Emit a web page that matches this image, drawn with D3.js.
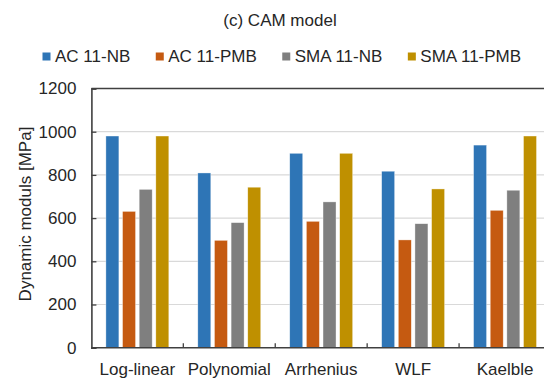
<!DOCTYPE html>
<html>
<head>
<meta charset="utf-8">
<script src="https://cdn.jsdelivr.net/npm/d3@7"></script>
<style>
  html, body { margin: 0; padding: 0; background: #fff; }
  svg { display: block; font-family: "Liberation Sans", Arial, sans-serif; }
</style>
</head>
<body>
<svg id="chart" width="544" height="381"></svg>
<script>
// Dynamic modulus predicted by each CAM shift-factor model
const models = ["Log-linear", "Polynomial", "Arrhenius", "WLF", "Kaelble"];
const mixtures = ["AC 11-NB", "AC 11-PMB", "SMA 11-NB", "SMA 11-PMB"];
const ac11NB   = [980, 809, 900, 817, 938];
const ac11PMB  = [631, 497, 585, 499, 636];
const sma11NB  = [733, 579, 675, 574, 729];
const sma11PMB = [980, 743, 900, 735, 980];
const yTicks = [0, 200, 400, 600, 800, 1000, 1200];
const colors = ["#2E75B6", "#C55A11", "#7F7F7F", "#BF9000"];

const seriesValues = [ac11NB, ac11PMB, sma11NB, sma11PMB];

const svg = d3.select("#chart");
const plotLeft = 91.4, plotRight = 551, plotTop = 88.5, plotBottom = 347.7;

const x = d3.scaleBand().domain(models).range([plotLeft, plotRight]).paddingInner(0).paddingOuter(0);
const xInner = d3.scaleBand().domain(mixtures)
  .range([14.5, x.bandwidth() - 14.5]).paddingInner(0.22).paddingOuter(0);
const y = d3.scaleLinear().domain([0, 1200]).range([plotBottom, plotTop]);

// gridlines
svg.append("g")
  .selectAll("line")
  .data(yTicks.filter(d => d > 0 && d < 1200))
  .join("line")
  .attr("x1", plotLeft).attr("x2", plotRight)
  .attr("y1", d => y(d)).attr("y2", d => y(d))
  .attr("stroke", "#d9d9d9").attr("stroke-width", 1.2);

// bars
const groups = svg.append("g")
  .selectAll("g")
  .data(models)
  .join("g")
  .attr("transform", d => `translate(${x(d)},0)`);

groups.selectAll("rect")
  .data((m, i) => mixtures.map((s, j) => ({ s, j, v: seriesValues[j][i] })))
  .join("rect")
  .attr("x", d => xInner(d.s))
  .attr("width", xInner.bandwidth())
  .attr("y", d => y(d.v))
  .attr("height", d => y(0) - y(d.v))
  .attr("fill", d => colors[d.j])
  .attr("stroke", "#ffffff").attr("stroke-opacity", 0.6).attr("stroke-width", 0.6);

// y axis
const yAxis = d3.axisLeft(y).tickValues(yTicks).tickFormat(d3.format("d")).tickSize(-5).tickPadding(15);
const gy = svg.append("g").attr("transform", `translate(${plotLeft},0)`).call(yAxis);
gy.select(".domain").attr("stroke", "#404040").attr("stroke-width", 1.6);
gy.selectAll(".tick line").attr("stroke", "#404040").attr("stroke-width", 1.3);
gy.selectAll(".tick text").attr("font-size", 17).attr("fill", "#262626")
  .attr("font-family", "Liberation Sans, Arial, sans-serif");

// x axis with category boundary ticks
const gx = svg.append("g").attr("transform", `translate(0,${plotBottom})`);
gx.append("line").attr("x1", plotLeft).attr("x2", plotRight).attr("y1", 0).attr("y2", 0)
  .attr("stroke", "#404040").attr("stroke-width", 1.6);
gx.selectAll("line.bt")
  .data(models.slice(1))
  .join("line").attr("class", "bt")
  .attr("x1", d => x(d)).attr("x2", d => x(d))
  .attr("y1", 0).attr("y2", -4.5)
  .attr("stroke", "#404040").attr("stroke-width", 1.3);
gx.selectAll("text")
  .data(models)
  .join("text")
  .attr("x", d => x(d) + x.bandwidth() / 2)
  .attr("y", 27.5)
  .attr("text-anchor", "middle")
  .attr("font-size", 17).attr("fill", "#262626")
  .text(d => d);

// top border of plot area
svg.append("line").attr("x1", plotLeft).attr("x2", plotRight).attr("y1", plotTop).attr("y2", plotTop)
  .attr("stroke", "#404040").attr("stroke-width", 1.6);

// axis title
svg.append("text")
  .attr("transform", `translate(31,214) rotate(-90)`)
  .attr("text-anchor", "middle")
  .attr("font-size", 17).attr("fill", "#262626")
  .text("Dynamic moduls [MPa]");

// chart title
svg.append("text")
  .attr("x", 280).attr("y", 26)
  .attr("text-anchor", "middle")
  .attr("font-size", 17).attr("fill", "#262626")
  .text("(c) CAM model");

// legend
const legend = svg.append("g");
let lx = 42.5;
mixtures.forEach((m, i) => {
  legend.append("rect").attr("x", lx).attr("y", 52.5).attr("width", 8).attr("height", 8)
    .attr("fill", colors[i]);
  const t = legend.append("text").attr("x", lx + 12.5).attr("y", 61.5)
    .attr("font-size", 17).attr("fill", "#262626").text(m);
  lx += 12.5 + t.node().getComputedTextLength() + 25.5;
});
</script>
</body>
</html>
